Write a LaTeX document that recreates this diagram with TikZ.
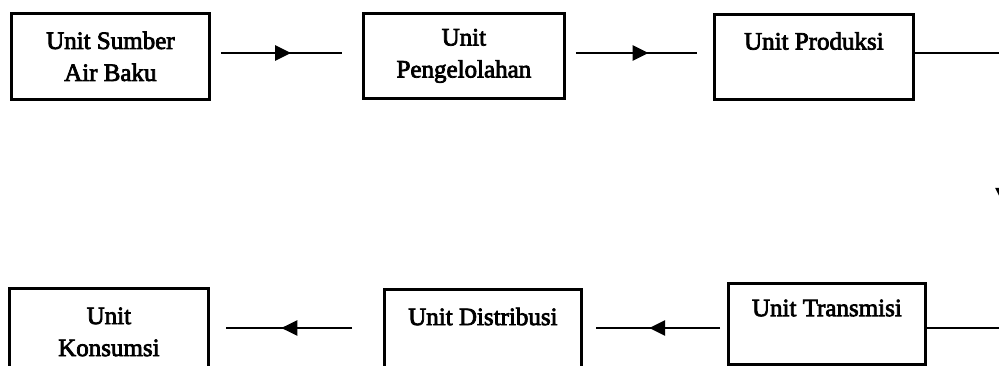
\documentclass[tikz,border=0pt]{standalone}
\usepackage{fontspec}
\setmainfont{Liberation Serif}
\newfontfamily\boxfont[BoldFont=Liberation Serif, BoldFeatures={FakeBold=3}]{Liberation Serif}
\usetikzlibrary{arrows.meta,decorations.markings,calc}
\tikzset{
  unitbox/.style={draw, line width=2.8pt, anchor=north west, inner sep=0pt, align=center,
    font=\boxfont\bfseries\fontsize{25}{32}\selectfont},
  conn/.style={line width=2.7pt},
  midarrow/.style={postaction={decorate}, decoration={markings,
    mark=at position #1 with {\arrow{Triangle[length=16pt,width=15pt]}}}}
}
\begin{document}
\begin{tikzpicture}[x=1pt,y=-1pt]
\useasboundingbox (0,0) rectangle (999,366);
\clip (0,0) rectangle (999,366);
% top row
\node[unitbox, minimum width=198pt, minimum height=86pt] (b1) at (10,12) {Unit Sumber\\Air Baku};
\node[unitbox, minimum width=201pt, minimum height=85pt] (b2) at (362,12) {Unit\\Pengelolahan};
\node[unitbox, minimum width=199pt, minimum height=85pt] (b3) at (713,13) {Unit Produksi\\\mbox{}};
% bottom row
\node[unitbox, minimum width=199pt, minimum height=87pt] (k) at (8,287) {Unit\\Konsumsi};
\node[unitbox, minimum width=197pt, minimum height=86pt] (d) at (383,288) {Unit Distribusi\\\mbox{}};
\node[unitbox, minimum width=197pt, minimum height=81pt] (t) at (727,282) {Unit Transmisi\\\mbox{}};
% helper coordinates
\coordinate (ytop) at (0,53);
\coordinate (ybot) at (0,328);
\coordinate (rtop) at (1003,53);
\coordinate (rbot) at (1003,328);
% connectors
\draw[conn, midarrow=0.58] ($(b1.east|-ytop)+(10,0)$) -- ($(b2.west|-ytop)+(-20,0)$);
\draw[conn, midarrow=0.60] ($(b2.east|-ytop)+(10,0)$) -- ($(b3.west|-ytop)+(-16,0)$);
\draw[conn, midarrow=239pt] (b3.east|-ytop) -- (rtop) -- (rbot) -- (t.east|-ybot);
\draw[conn, midarrow=0.57] ($(t.west|-ybot)+(-7,0)$) -- ($(d.east|-ybot)+(13,0)$);
\draw[conn, midarrow=0.56] ($(d.west|-ybot)+(-31,0)$) -- ($(k.east|-ybot)+(16,0)$);
\end{tikzpicture}
\end{document}
